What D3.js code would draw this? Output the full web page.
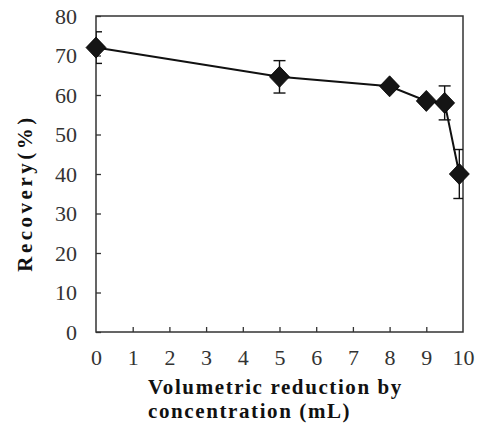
<!DOCTYPE html>
<html>
<head>
<meta charset="utf-8">
<script src="https://cdn.jsdelivr.net/npm/d3@7"></script>
</head>
<body style="margin:0;background:#fff">
<svg id="chart" width="481" height="428" style="display:block"></svg>
<script>
// Recovery versus volumetric reduction
const volumeReduction = [0, 5, 8, 9, 9.5, 9.9];
const recovery = [72, 64.6, 62.2, 58.5, 58.0, 40.0];
const recoveryError = [4.0, 4.1, 0, 0, 4.3, 6.2];
const xTickValues = [0, 1, 2, 3, 4, 5, 6, 7, 8, 9, 10];
const yTickValues = [0, 10, 20, 30, 40, 50, 60, 70, 80];

const SERIF = "'Liberation Serif', 'Times New Roman', serif";

const svg = d3.select("#chart");
const margin = { left: 96, top: 16, right: 18, bottom: 96 };
const W = 481, H = 428;
const plotW = W - margin.left - margin.right;
const plotH = H - margin.top - margin.bottom;

const x = d3.scaleLinear().domain([0, 10]).range([0, plotW]);
const y = d3.scaleLinear().domain([0, 80]).range([plotH, 0]);

const g = svg.append("g").attr("transform", `translate(${margin.left},${margin.top})`);

svg.append("defs").append("clipPath").attr("id", "plot-clip")
  .append("rect").attr("x", 0).attr("y", 0).attr("width", plotW).attr("height", plotH);

// Frame
g.append("rect")
  .attr("x", 0).attr("y", 0).attr("width", plotW).attr("height", plotH)
  .attr("fill", "none").attr("stroke", "#333").attr("stroke-width", 1.5);

function styleTicks(sel) {
  sel.selectAll(".tick text")
    .style("font-family", SERIF).style("font-size", "22px").style("fill", "#333");
}

// Inward ticks on the y axis
const yAxis = d3.axisLeft(y).tickValues(yTickValues).tickSize(-5).tickPadding(19).tickFormat(d3.format("d"));
const yG = g.append("g").call(yAxis);
yG.select(".domain").remove();
yG.selectAll(".tick line").attr("stroke", "#333").attr("stroke-width", 1.3);
styleTicks(yG);
yG.selectAll(".tick text").attr("dy", "0.34em");

// Inward ticks on the x axis
const xAxis = d3.axisBottom(x).tickValues(xTickValues).tickSize(-5).tickPadding(17).tickFormat(d3.format("d"));
const xG = g.append("g").attr("transform", `translate(0,${plotH})`).call(xAxis);
xG.select(".domain").remove();
xG.selectAll(".tick line").attr("stroke", "#333").attr("stroke-width", 1.3)
  .filter(d => d === 0 || d === 10).remove();
styleTicks(xG);

// Error bars
const pts = volumeReduction.map((v, i) => ({ x: v, y: recovery[i], e: recoveryError[i] }));
const eb = g.append("g").attr("clip-path", "url(#plot-clip)")
  .selectAll("g").data(pts.filter(d => d.e > 0)).join("g")
  .attr("stroke", "#111").attr("stroke-width", 1.4);
eb.append("line")
  .attr("x1", d => x(d.x)).attr("x2", d => x(d.x))
  .attr("y1", d => y(d.y + d.e)).attr("y2", d => y(d.y - d.e));
eb.append("line")
  .attr("x1", d => x(d.x) - 6).attr("x2", d => x(d.x) + 6)
  .attr("y1", d => y(d.y + d.e)).attr("y2", d => y(d.y + d.e));
eb.append("line")
  .attr("x1", d => x(d.x) - 6).attr("x2", d => x(d.x) + 6)
  .attr("y1", d => y(d.y - d.e)).attr("y2", d => y(d.y - d.e));

// Connecting line
g.append("path").datum(pts)
  .attr("fill", "none").attr("stroke", "#111").attr("stroke-width", 2)
  .attr("d", d3.line().x(d => x(d.x)).y(d => y(d.y)));

// Diamond markers
g.selectAll(".marker").data(pts).join("path")
  .attr("class", "marker")
  .attr("transform", d => `translate(${x(d.x)},${y(d.y)})`)
  .attr("d", "M0,-10.5L10,0L0,10.5L-10,0Z")
  .attr("fill", "#151515").attr("stroke", "#000").attr("stroke-width", 0.8);

// Axis titles
svg.append("text")
  .attr("transform", `translate(32,193) rotate(-90)`)
  .attr("text-anchor", "middle")
  .style("font-family", SERIF).style("font-size", "21px").style("font-weight", "bold")
  .style("letter-spacing", "3.5px").style("fill", "#111")
  .text("Recovery(%)");

const xt = svg.append("text").attr("text-anchor", "start")
  .style("font-family", SERIF).style("font-size", "21px").style("font-weight", "bold")
  .style("letter-spacing", "1.6px").style("fill", "#111");
xt.append("tspan").attr("x", 148).attr("y", 394).text("Volumetric reduction by");
xt.append("tspan").attr("x", 148).attr("y", 418).text("concentration (mL)");
</script>
</body>
</html>
